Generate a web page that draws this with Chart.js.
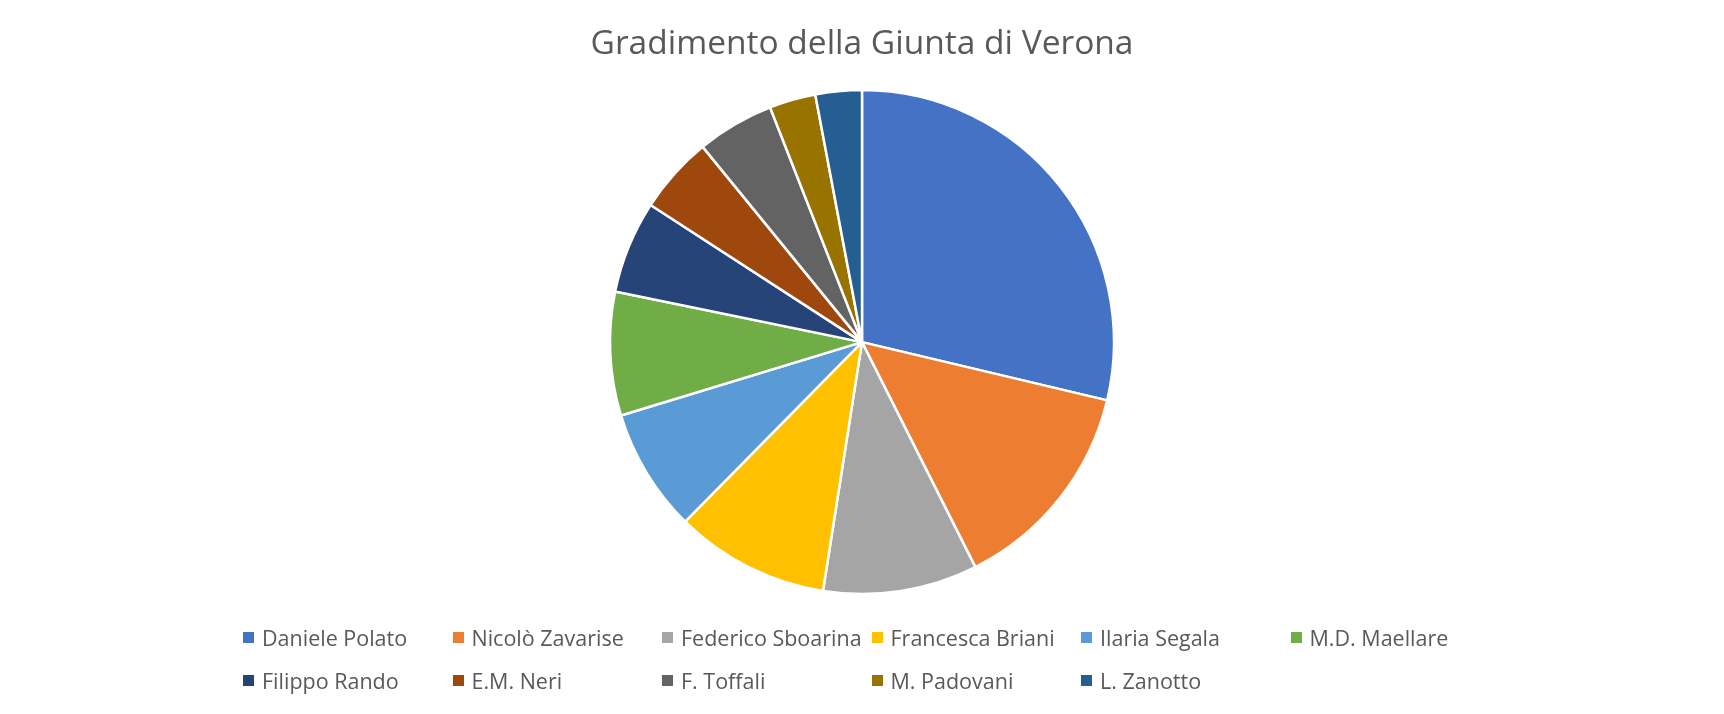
<!DOCTYPE html>
<html>
<head>
<meta charset="utf-8">
<title>Gradimento della Giunta di Verona</title>
<script src="https://cdn.jsdelivr.net/npm/chart.js@4"></script>
<style>
  html, body { margin: 0; padding: 0; background: #fff; }
  #wrap { position: relative; width: 1724px; height: 714px; }
  #legend {
    position: absolute; left: 243px; top: 616px;
    display: grid; grid-template-columns: repeat(6, 209.5px); grid-auto-rows: 43px;
    font-family: "Open Sans", sans-serif; font-size: 21.5px; color: #595959;
  }
  #legend .item { display: flex; align-items: center; white-space: nowrap; }
  #legend .box { width: 11px; height: 11px; margin-right: 8px; flex: none; }
</style>
</head>
<body>
<div id="wrap">
  <canvas id="myChart" width="1724" height="714"></canvas>
  <div id="legend"></div>
</div>
<script>
const chartTitle = 'Gradimento della Giunta di Verona';
const nomi = ['Daniele Polato', 'Nicolò Zavarise', 'Federico Sboarina', 'Francesca Briani', 'Ilaria Segala',
    'M.D. Maellare', 'Filippo Rando', 'E.M. Neri', 'F. Toffali', 'M. Padovani', 'L. Zanotto'];
const voti = [29, 14, 10, 10, 8, 8, 6, 5, 5, 3, 3];
const colori = ['#4472C4', '#ED7D31', '#A5A5A5', '#FFC000', '#5B9BD5', '#70AD47',
    '#264478', '#9E480E', '#636363', '#997300', '#255E91'];

// legenda html a colonne fisse come in Excel
const htmlLegend = {
    id: 'htmlLegend',
    afterUpdate(chart) {
        const box = document.getElementById('legend');
        box.innerHTML = '';
        const items = chart.options.plugins.legend.labels.generateLabels(chart);
        items.forEach(it => {
            const div = document.createElement('div');
            div.className = 'item';
            const sq = document.createElement('span');
            sq.className = 'box';
            sq.style.background = it.fillStyle;
            div.appendChild(sq);
            div.appendChild(document.createTextNode(it.text));
            box.appendChild(div);
        });
    }
};

const ctx = document.getElementById('myChart');
var myChart = new Chart(ctx, {
    type: 'pie',
    data: {
        labels: nomi,
        datasets: [{
            data: voti,
            backgroundColor: colori,
            borderColor: '#ffffff',
            borderWidth: 2.5
        }]
    },
    options: {
        responsive: false,
        animation: false,
        radius: 252,
        layout: { padding: { top: 0, bottom: 107, left: 0, right: 0 } },
        plugins: {
            legend: { display: false },
            tooltip: { enabled: false },
            title: {
                display: true,
                text: chartTitle,
                color: '#595959',
                font: { family: '"Open Sans", sans-serif', size: 33.5, weight: 'normal', lineHeight: 1.2 },
                padding: { top: 24, bottom: 13 }
            }
        }
    },
    plugins: [htmlLegend]
});
</script>
</body>
</html>
